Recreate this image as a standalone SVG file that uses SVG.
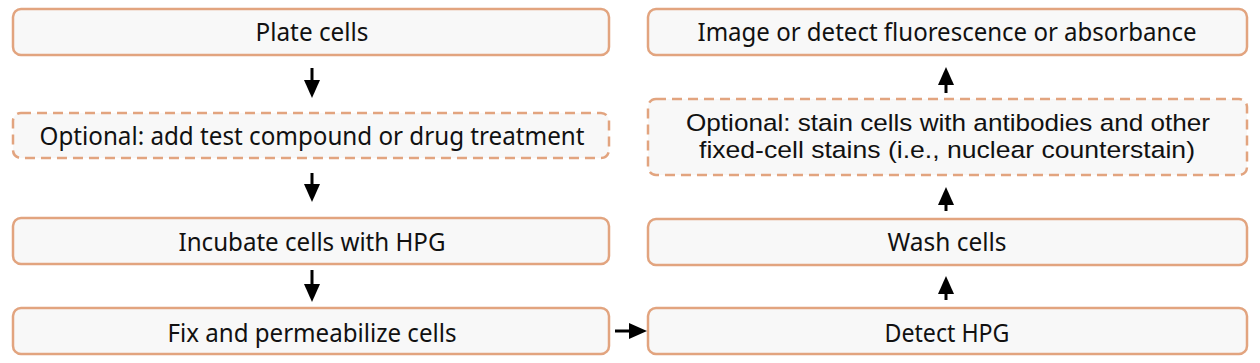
<svg xmlns="http://www.w3.org/2000/svg" width="1260" height="363" viewBox="0 0 1260 363">
<defs>
<style>
.box{fill:#f8f8f8;stroke:#e2a47f;stroke-width:2.5}
.dash{stroke-dasharray:10 6}
.t{font-family:"Noto Sans","Open Sans",sans-serif;font-size:26px;fill:#111;text-anchor:middle}
.t2{font-family:"Liberation Sans",Arial,sans-serif;font-size:24.5px}
.c{stroke:#000;stroke-width:3;fill:none;marker-end:url(#ah)}
</style>
<marker id="ah" markerWidth="18" markerHeight="16" refX="8" refY="8" orient="auto" markerUnits="userSpaceOnUse" viewBox="0 0 18 16">
<path d="M0,0 L18,8 L0,16 Z" fill="#000"/>
</marker>
</defs>
<rect width="1260" height="363" fill="#fff"/>
<g id="plate"><rect class="box" x="13" y="9" width="596" height="46" rx="8"/><text class="t" x="312" y="41" textLength="113" lengthAdjust="spacingAndGlyphs">Plate cells</text></g>
<g id="optional1"><rect class="box dash" x="13" y="113" width="596" height="45" rx="8"/><text class="t" x="312" y="145" textLength="545" lengthAdjust="spacingAndGlyphs">Optional: add test compound or drug treatment</text></g>
<g id="incubate"><rect class="box" x="13" y="218" width="596" height="46" rx="8"/><text class="t" x="312" y="251" textLength="267" lengthAdjust="spacingAndGlyphs">Incubate cells with HPG</text></g>
<g id="fix"><rect class="box" x="13" y="308" width="596" height="46" rx="8"/><text class="t" x="312" y="342" textLength="289" lengthAdjust="spacingAndGlyphs">Fix and permeabilize cells</text></g>
<g id="image"><rect class="box" x="648" y="9" width="599" height="46" rx="8"/><text class="t" x="947" y="41" textLength="499" lengthAdjust="spacingAndGlyphs">Image or detect fluorescence or absorbance</text></g>
<g id="optional2"><rect class="box dash" x="648" y="99" width="599" height="76" rx="8"/><text class="t t2" x="948" y="131" textLength="524" lengthAdjust="spacingAndGlyphs">Optional: stain cells with antibodies and other</text><text class="t t2" x="947" y="158" textLength="496" lengthAdjust="spacingAndGlyphs">fixed-cell stains (i.e., nuclear counterstain)</text></g>
<g id="wash"><rect class="box" x="648" y="219" width="599" height="46" rx="8"/><text class="t" x="947" y="251" textLength="119" lengthAdjust="spacingAndGlyphs">Wash cells</text></g>
<g id="detect"><rect class="box" x="648" y="308" width="599" height="46" rx="8"/><text class="t" x="947" y="342" textLength="125" lengthAdjust="spacingAndGlyphs">Detect HPG</text></g>
<g id="connectors">
<line class="c" x1="312" y1="68" x2="312" y2="88"/>
<line class="c" x1="312" y1="173" x2="312" y2="192"/>
<line class="c" x1="312" y1="270" x2="312" y2="292"/>
<line class="c" x1="615" y1="331" x2="637" y2="331"/>
<line class="c" x1="946" y1="93" x2="946" y2="77"/>
<line class="c" x1="946" y1="211" x2="946" y2="197"/>
<line class="c" x1="946" y1="300" x2="946" y2="286"/>
</g>
</svg>
